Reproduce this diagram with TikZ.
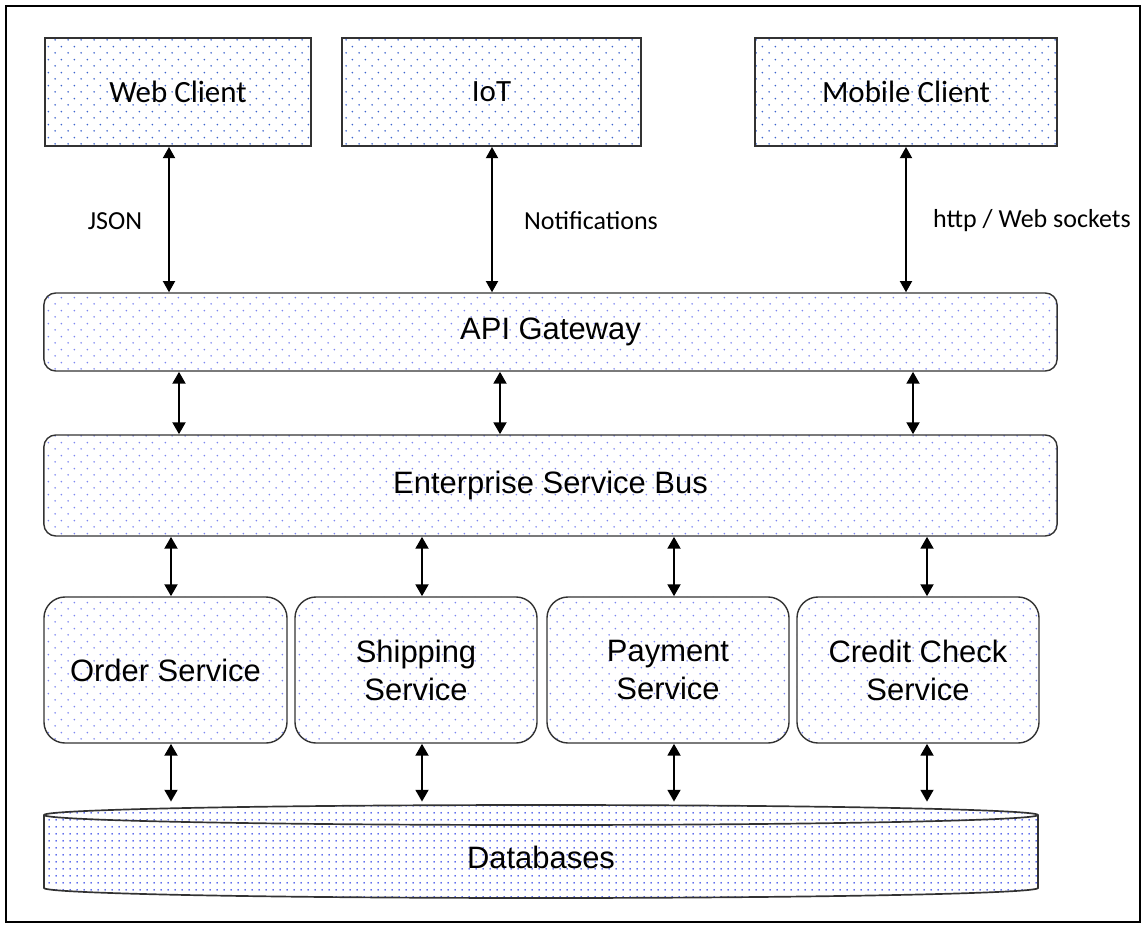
\documentclass[tikz,border=0pt]{standalone}
\usepackage{fontspec}
\setmainfont{Carlito}
\newfontfamily\arialfont{Liberation Sans}
\usetikzlibrary{arrows.meta, patterns}

\pgfdeclarepatternformonly{sparse dots}{\pgfpointorigin}{\pgfqpoint{9.4pt}{9.4pt}}{\pgfqpoint{9.4pt}{9.4pt}}{%
  \pgfpathcircle{\pgfqpoint{2.35pt}{2.35pt}}{0.7pt}%
  \pgfpathcircle{\pgfqpoint{7.05pt}{7.05pt}}{0.7pt}%
  \pgfusepath{fill}}
\pgfdeclarepatternformonly{dense dots}{\pgfpointorigin}{\pgfqpoint{4.7pt}{4.7pt}}{\pgfqpoint{4.7pt}{4.7pt}}{%
  \pgfpathcircle{\pgfqpoint{2.35pt}{2.35pt}}{0.65pt}%
  \pgfusepath{fill}}

\definecolor{dotblue}{RGB}{60,100,205}
\definecolor{dotlight}{RGB}{125,135,240}
\definecolor{dotdeep}{RGB}{40,60,230}
\definecolor{edge}{RGB}{50,50,50}

\tikzset{
 client/.style={draw=edge, line width=1.3pt, pattern=sparse dots, pattern color=dotblue,
   minimum height=2.7cm, font=\fontsize{22}{26}\selectfont},
 layer/.style={draw=edge, line width=1pt, rounded corners=8.5pt, pattern=sparse dots,
   pattern color=dotlight, minimum width=25.325cm, font=\arialfont\fontsize{22}{27}\selectfont},
 svc/.style={draw=edge, line width=1pt, rounded corners=15pt, pattern=sparse dots,
   pattern color=dotlight, minimum width=6.05cm, minimum height=3.65cm, align=center,
   font=\arialfont\fontsize{22}{27}\selectfont},
 lbl/.style={font=\fontsize{18.5}{22}\selectfont},
 biarrow/.style={{Triangle[length=8.5pt,width=9pt]}-{Triangle[length=8.5pt,width=9pt]}, line width=2pt},
 thinarrow/.style={{Triangle[length=8pt,width=8.5pt]}-{Triangle[length=8pt,width=8.5pt]}, line width=1.5pt},
}

\begin{document}
\begin{tikzpicture}[x=0.025cm, y=-0.025cm]
\useasboundingbox (0,0) rectangle (1143,926);
\draw[line width=2pt] (6,6) rectangle (1140,922);

% clients
\node[client, minimum width=6.65cm] (web) at (178,92) {Web Client};
\node[client, minimum width=7.475cm] (iot) at (491.5,92) {IoT};
\node[client, minimum width=7.55cm] (mob) at (906,92) {Mobile Client};

% gateway and bus
\node[layer, minimum height=1.95cm] (api) at (550.5,332) {API Gateway};
\node[layer, minimum height=2.525cm] (esb) at (550.5,485.5) {Enterprise Service Bus};

% services
\node[svc, minimum width=6.075cm] (ord) at (165.5,670) {Order Service};
\node[svc] (shp) at (416,670) {Shipping\\Service};
\node[svc] (pay) at (668,670) {Payment\\Service};
\node[svc] (crd) at (918,670) {Credit Check\\Service};

% databases
\draw[edge, line width=1.2pt, pattern=dense dots, pattern color=dotdeep]
  (44,815) -- (44,888) arc[start angle=180, end angle=0, x radius=497, y radius=10]
  -- (1038,815) arc[start angle=0, end angle=-180, x radius=497, y radius=10] -- cycle;
\draw[edge, line width=1.2pt] (44,815) arc[start angle=180, end angle=0, x radius=497, y radius=10];
\node[minimum width=24.85cm, minimum height=2.75cm, font=\arialfont\fontsize{22}{27}\selectfont]
  (db) at (541,857) {Databases};

% protocol labels
\node[lbl] (json) at (115,221) {JSON};
\node[lbl] (note) at (591,221) {Notifications};
\node[lbl] (http) at (1032,221) {http / Web sockets};

% connectors
\foreach \n/\x in {web/169, iot/492, mob/906}
  \draw[thinarrow] (\n.south -| \x,0) -- (api.north -| \x,0);
\foreach \x in {179, 500, 913}
  \draw[biarrow] (api.south -| \x,0) -- (esb.north -| \x,0);
\foreach \n/\x in {ord/171, shp/422, pay/674, crd/927} {
  \draw[biarrow] (esb.south -| \x,0) -- (\n.north -| \x,0);
  \draw[biarrow] (\n.south -| \x,0) -- (db.north -| \x,0);
}
\end{tikzpicture}
\end{document}
